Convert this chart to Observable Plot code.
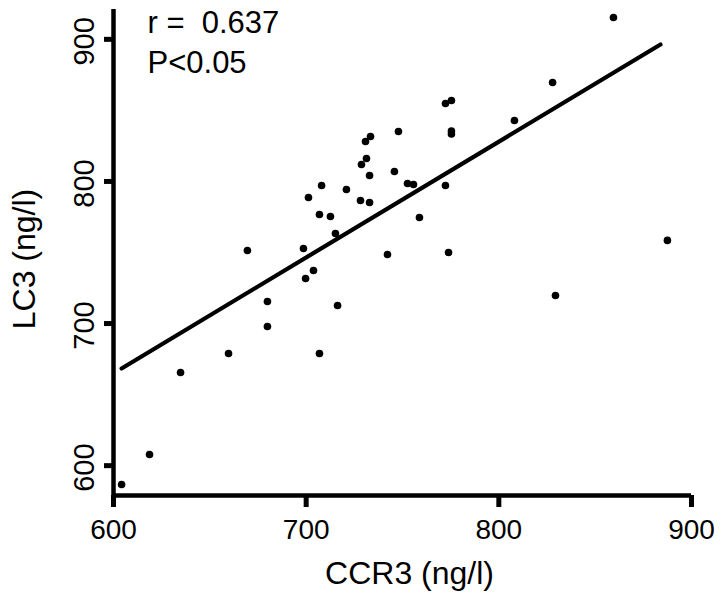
<!DOCTYPE html>
<html><head><meta charset="utf-8">
<script src="https://cdn.jsdelivr.net/npm/d3@7"></script>
<script src="https://cdn.jsdelivr.net/npm/@observablehq/plot@0.6"></script>
<style>html,body{margin:0;padding:0;background:#fff}</style>
</head><body><div id="chart"></div>
<script>
// Data
const ccr3 = [604.2, 618.7, 634.8, 659.7, 679.9, 679.9, 669.5, 698.6, 699.7, 703.8,
              706.9, 716.3, 701.2, 708.0, 706.9, 712.6, 715.2, 720.9, 728.2, 732.9,
              728.7, 731.3, 732.9, 730.8, 733.4, 747.9, 745.8, 752.6, 755.7, 758.8,
              742.2, 772.3, 775.4, 775.4, 773.9, 772.3, 775.4, 808.1, 827.9, 859.5,
              887.5, 829.4];
const lc3  = [586.7, 607.9, 665.6, 678.9, 697.9, 715.5, 751.4, 752.8, 731.7, 737.3,
              678.9, 712.7, 788.7, 797.2, 776.7, 775.3, 763.4, 794.3, 786.6, 785.2,
              811.9, 816.2, 804.2, 828.1, 831.6, 835.2, 807.0, 798.6, 797.9, 774.6,
              748.6, 797.2, 835.5, 833.4, 750.0, 854.9, 857.0, 842.9, 869.6, 915.4,
              758.5, 719.7];
const fitX = [604.2, 883.9];
const fitY = [668.4, 896.4];
const xTicks = [600, 700, 800, 900];
const yTicks = [600, 700, 800, 900];
const statLines = ["r =\u00a0\u00a00.637", "P<0.05"];
const xTitle = "CCR3 (ng/l)";
const yTitle = "LC3 (ng/l)";

const points = ccr3.map((x, i) => ({x, y: lc3[i]}));
const fit = fitX.map((x, i) => ({x, y: fitY[i]}));
const font = "'Liberation Sans', Arial, Helvetica, sans-serif";

const chart = Plot.plot({
  width: 724, height: 603,
  marginLeft: 113, marginRight: 33, marginTop: 9, marginBottom: 108,
  style: {fontFamily: font, background: "#fff", color: "#000"},
  x: {domain: [600, 900]},
  y: {domain: [579, 921]},
  marks: [
    Plot.axisX({ticks: xTicks, tickSize: 12, strokeWidth: 5, tickPadding: 12, fontSize: 28, label: null, tickFormat: d => String(d)}),
    Plot.axisY({ticks: yTicks, tickSize: 9, strokeWidth: 5, label: null, tickFormat: () => ""}),
    Plot.text(yTicks, {y: d => d, text: d => String(d), frameAnchor: "left", dx: -20, dy: 2, rotate: -90, lineAnchor: "bottom", textAnchor: "middle", fontSize: 29, ariaLabel: "y-tick-labels"}),
    Plot.ruleX([600], {strokeWidth: 4.5}),
    Plot.ruleY([579], {strokeWidth: 4.5}),
    Plot.line(fit, {x: "x", y: "y", strokeWidth: 4.2, strokeLinecap: "round"}),
    Plot.dot(points, {x: "x", y: "y", r: 3.8, fill: "black"}),
    Plot.text([statLines[0]], {text: d => d, frameAnchor: "top-left", dx: 34, dy: 23, lineAnchor: "bottom", textAnchor: "start", fontSize: 31, ariaLabel: "stat1"}),
    Plot.text([statLines[1]], {text: d => d, frameAnchor: "top-left", dx: 34, dy: 63, lineAnchor: "bottom", textAnchor: "start", fontSize: 31, ariaLabel: "stat2"}),
    Plot.text([xTitle], {text: d => d, frameAnchor: "bottom", dx: 7, dy: 88, lineAnchor: "bottom", fontSize: 32, ariaLabel: "x-title"}),
    Plot.text([yTitle], {text: d => d, frameAnchor: "left", dx: -79, dy: 6.5, rotate: -90, lineAnchor: "bottom", textAnchor: "middle", fontSize: 32, ariaLabel: "y-title"})
  ]
});
document.getElementById("chart").appendChild(chart);
const svg = chart.tagName.toLowerCase() === "svg" ? chart : chart.querySelector("svg");
const stretch = (label, len) => d3.select(svg).selectAll(`g[aria-label="${label}"] text`).attr("textLength", len).attr("lengthAdjust", "spacingAndGlyphs");
stretch("x-title", 188);
stretch("y-title", 153);
stretch("y-tick-labels", 40);
stretch("stat1", 130);
stretch("stat2", 101);
</script>
</body></html>
